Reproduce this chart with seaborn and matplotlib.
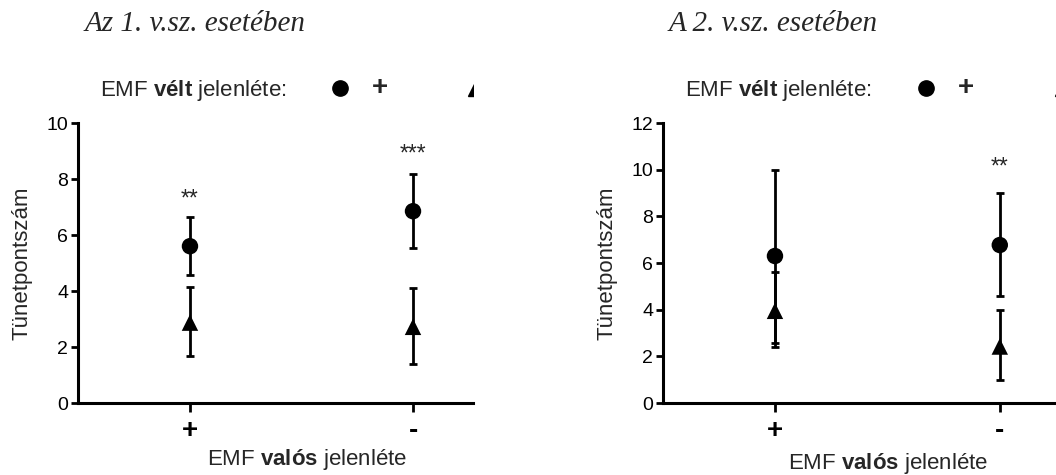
import numpy as np
import pandas as pd
import matplotlib
matplotlib.use("Agg")
import matplotlib.pyplot as plt
import seaborn as sns
from matplotlib.lines import Line2D
from matplotlib.transforms import Bbox, TransformedBbox, blended_transform_factory

# ---------------- data ----------------
valos_cats = ["+", "-"]          # EMF valós jelenléte (x categories)
velt_cats = ["+", "-"]           # EMF vélt jelenléte (marker: circle / triangle)

titles = ["Az 1. v.sz. esetében", "A 2. v.sz. esetében"]

# panel 1 (Az 1. v.sz.)
p1_plus_mean = [5.60, 6.85]
p1_plus_lo = [4.57, 5.55]
p1_plus_hi = [6.65, 8.18]
p1_minus_mean = [2.87, 2.72]
p1_minus_lo = [1.67, 1.38]
p1_minus_hi = [4.15, 4.12]
p1_sig = ["**", "***"]
p1_sig_y = [7.05, 8.65]
p1_yticks = [0, 2, 4, 6, 8, 10]

# panel 2 (A 2. v.sz.)
p2_plus_mean = [6.30, 6.77]
p2_plus_lo = [2.58, 4.59]
p2_plus_hi = [10.0, 9.00]
p2_minus_mean = [3.95, 2.42]
p2_minus_lo = [2.42, 1.00]
p2_minus_hi = [5.60, 3.99]
p2_sig = ["", "**"]
p2_sig_y = [0, 9.85]
p2_yticks = [0, 2, 4, 6, 8, 10, 12]

panels = [
    dict(pm=p1_plus_mean, pl=p1_plus_lo, ph=p1_plus_hi,
         mm=p1_minus_mean, ml=p1_minus_lo, mh=p1_minus_hi,
         sig=p1_sig, sig_y=p1_sig_y, yticks=p1_yticks),
    dict(pm=p2_plus_mean, pl=p2_plus_lo, ph=p2_plus_hi,
         mm=p2_minus_mean, ml=p2_minus_lo, mh=p2_minus_hi,
         sig=p2_sig, sig_y=p2_sig_y, yticks=p2_yticks),
]

# ---------------- style ----------------
sns.set_style("ticks")
plt.rcParams["font.family"] = ["Liberation Sans", "DejaVu Sans"]
plt.rcParams["mathtext.fontset"] = "custom"
plt.rcParams["mathtext.rm"] = "Liberation Sans"
plt.rcParams["mathtext.bf"] = "Liberation Sans:bold"
plt.rcParams["axes.edgecolor"] = "black"

W, H = 1056, 475
fig = plt.figure(figsize=(W / 100, H / 100), dpi=100)
fig.patch.set_facecolor("white")

ax_px = [(78, 395, -0.502, 1.269), (663, 393, -0.498, 1.25)]
title_x = [195, 773]
legend_x = [100, 685]
xlabel_pos = [(307, 465), (888, 469)]

for i, (p, (x0, w, xl0, xl1)) in enumerate(zip(panels, ax_px)):
    ax = fig.add_axes([x0 / W, 72 / H, w / W, 280 / H])
    ax.set_facecolor("white")
    df = pd.DataFrame({
        "pos": [0, 1, 0, 1],
        "valos": valos_cats * 2,
        "velt": [velt_cats[0]] * 2 + [velt_cats[1]] * 2,
        "mean": p["pm"] + p["mm"],
        "lo": p["pl"] + p["ml"],
        "hi": p["ph"] + p["mh"],
    })
    ax.errorbar(df["pos"], df["mean"],
                yerr=[df["mean"] - df["lo"], df["hi"] - df["mean"]],
                fmt="none", ecolor="black", elinewidth=2.0,
                capsize=3, capthick=2.0, zorder=2)
    sns.scatterplot(data=df, x="pos", y="mean", style="velt",
                    markers={velt_cats[0]: "o", velt_cats[1]: "^"},
                    color="black", edgecolor="black", linewidth=0,
                    s=140, legend=False, ax=ax, zorder=3)
    for xpos, s, sy in zip([0, 1], p["sig"], p["sig_y"]):
        if s:
            ax.text(xpos, sy, s, ha="center", va="baseline", fontsize=16.5)

    ax.set_xlim(xl0, xl1)
    ax.set_ylim(p["yticks"][0], p["yticks"][-1])
    ax.set_yticks(p["yticks"])
    ax.set_xticks([0, 1])
    ax.set_xticklabels(valos_cats, fontweight="bold", fontsize=20)
    ax.set_xlabel("")
    ax.set_ylabel("")
    for sp in ["top", "right"]:
        ax.spines[sp].set_visible(False)
    for sp in ["left", "bottom"]:
        ax.spines[sp].set_linewidth(2.2)
    ax.tick_params(axis="y", length=5, width=2, labelsize=14, pad=2, colors="black")
    ax.tick_params(axis="x", length=6.5, width=2, pad=4, colors="black")

    # y label
    fig.text((x0 - 56) / W, (72 + 140) / H, "Tünetpontszám", rotation=90,
             ha="center", va="center", fontsize=16)

    # x label
    fig.text(xlabel_pos[i][0] / W, 1 - xlabel_pos[i][1] / H,
             "EMF $\\mathbf{valós}$ jelenléte", ha="center", va="baseline",
             fontsize=16)

    # title
    fig.text(title_x[i] / W, 1 - 31 / H, titles[i], family="Liberation Serif",
             style="italic", fontsize=21, ha="center", va="baseline")

    # legend row (clipped at the axes' right edge)
    fig.text(legend_x[i] / W, 1 - 96 / H, "EMF $\\mathbf{vélt}$ jelenléte:",
             ha="left", va="baseline", fontsize=16)
    trans = blended_transform_factory(ax.transData, fig.transFigure)
    clip = TransformedBbox(Bbox([[x0 / W, 0], [(x0 + w) / W, 1]]), fig.transFigure)
    ly = 1 - 88 / H
    m1 = Line2D([0.673], [ly], marker="o", ms=11, color="black", lw=0,
                transform=trans)
    m1.set_clip_box(clip)
    fig.add_artist(m1)
    fig.text(0.85, ly, velt_cats[0], transform=trans, ha="center",
             va="center", fontsize=20, fontweight="bold")
    m2 = Line2D([1.283], [ly], marker="^", ms=12, color="black", lw=0,
                transform=trans)
    m2.set_clip_box(clip)
    m2.set_clip_on(True)
    fig.add_artist(m2)

fig.savefig("out.png", dpi=100, facecolor="white")
